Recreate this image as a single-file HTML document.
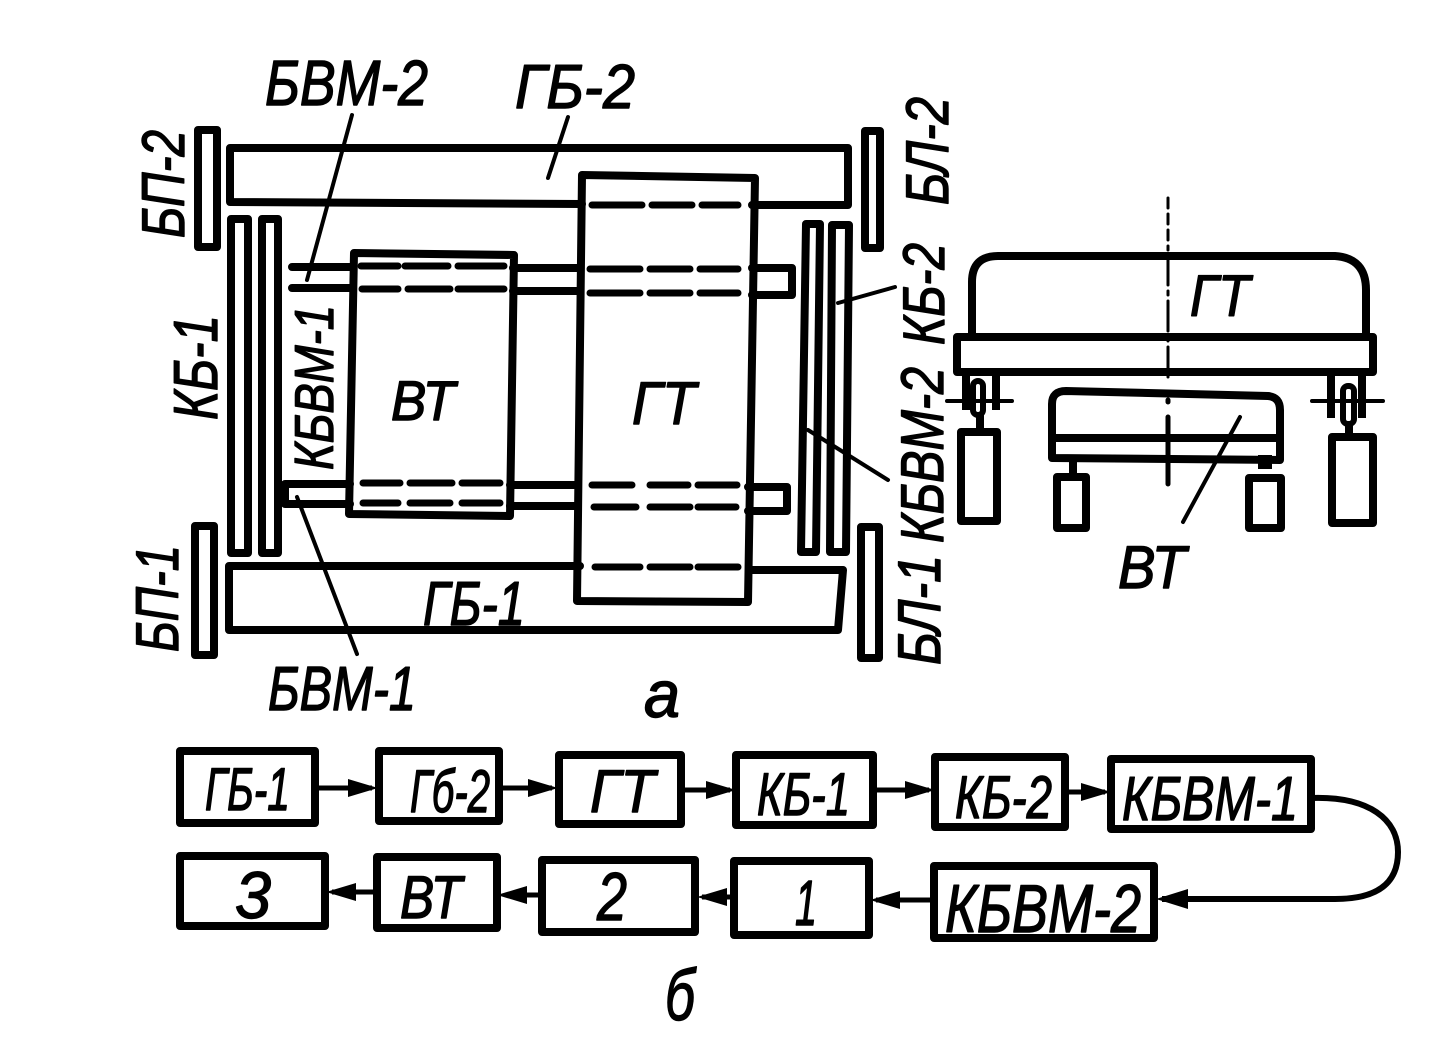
<!DOCTYPE html>
<html><head><meta charset="utf-8"><style>
html,body{margin:0;padding:0;background:#fff;width:1440px;height:1049px;overflow:hidden}
svg{display:block}
text{font-family:"Liberation Sans",sans-serif;font-style:italic;font-size:60px;fill:#000;stroke:#000;stroke-width:1.4px;stroke-linejoin:round}
</style></head><body>
<svg width="1440" height="1049" viewBox="0 0 1440 1049" xmlns="http://www.w3.org/2000/svg">
<g fill="none" stroke="#000" stroke-width="8" stroke-linejoin="round" stroke-linecap="round">
<!-- BP/BL bars -->
<rect x="198" y="130" width="19" height="117"/>
<rect x="865" y="131" width="15" height="117"/>
<rect x="195" y="526" width="19" height="129"/>
<rect x="861" y="527" width="18" height="131"/>
<!-- GB -->
<path d="M582 204L230 202V148H848V205H752"/>
<path d="M580 566H229V630H838L843 570H750"/>
<!-- KB left -->
<rect x="231" y="219" width="17" height="334"/>
<rect x="262" y="219" width="16" height="334"/>
<!-- KB right -->
<path d="M806 224H820L816 552H801Z"/>
<path d="M832 225H849L846 552H830Z"/>
<!-- Shafts -->
<path d="M292 267H352M292 288H352M513 268H580M513 291H580M752 268H792V295H752"/>
<path d="M350 484H285V504H350M510 485H578M510 506H578M748 487H787V511H748"/>
<!-- VT GT -->
<path d="M354 253L514 255L510 516L349 514Z"/>
<path d="M582 175L755 178L748 602L577 601Z"/>
</g>
<g fill="none" stroke="#000" stroke-width="7" stroke-linecap="round">
<path d="M592 205H642M652 205H692M702 205H738"/>
<path d="M595 567H640M650 567H690M698 567H738"/>
<path d="M361 266H398M405 266H448M458 266H504M362 289H398M408 289H450M458 289H504"/>
<path d="M590 269H640M650 269H690M700 269H738M590 293H640M650 293H690M700 293H738"/>
<path d="M363 483H400M410 483H452M462 483H500M363 503H398M410 503H450M462 503H500"/>
<path d="M592 485H632M650 485H688M698 485H737M594 507H636M650 507H690M698 507H736"/>
</g>
<!-- leaders -->
<g fill="none" stroke="#000" stroke-width="4" stroke-linecap="round">
<path d="M352 115L307 280M568 117L548 178M895 287L838 303M888 480L808 430M297 497L357 654"/>
</g>
<!-- Side view -->
<g fill="none" stroke="#000" stroke-width="8" stroke-linejoin="round">
<path d="M972 336V282Q972 256 998 256H1335Q1366 258 1366 290V336"/>
<rect x="957" y="337" width="416" height="35"/>
<path d="M1052 458V404Q1052 391 1066 391L1268 396Q1280 397 1280 410V460Z"/>
<path d="M1052 438H1280"/>
<rect x="961" y="432" width="36" height="89"/>
<rect x="1332" y="437" width="41" height="86"/>
<rect x="1057" y="477" width="29" height="51"/>
<rect x="1249" y="478" width="32" height="50"/>
<path d="M966 373V410M996 373V410M1331 373V418M1362 373V418M1073 462V477"/>
<path d="M980 415V430M1349 425V437"/>
<path d="M1258 462H1272" stroke-width="14"/>
<rect x="973" y="381" width="10" height="34" rx="5" stroke-width="6"/>
<rect x="1343" y="386" width="11" height="38" rx="5" stroke-width="6"/>
</g>
<g fill="none" stroke="#000" stroke-width="4" stroke-linecap="round">
<path d="M947 401H1012M1312 401H1383"/>
<path d="M1168 198V250" stroke-width="3" stroke-dasharray="10 6"/>
<path d="M1168 255V380" stroke-width="3" stroke-dasharray="30 6 4 6"/>
<path d="M1168 400V402M1168 417V484" stroke-width="5"/>
<path d="M1240 417L1183 522"/>
</g>
<!-- Block diagram -->
<g fill="none" stroke="#000" stroke-width="8" stroke-linejoin="round">
<rect x="180" y="751" width="135" height="72"/>
<rect x="379" y="751" width="120" height="70"/>
<rect x="559" y="755" width="122" height="69"/>
<rect x="736" y="755" width="137" height="70"/>
<rect x="935" y="757" width="130" height="70"/>
<rect x="1111" y="759" width="200" height="70"/>
<rect x="180" y="856" width="145" height="70"/>
<rect x="377" y="857" width="120" height="71"/>
<rect x="542" y="860" width="153" height="72"/>
<rect x="734" y="861" width="135" height="74"/>
<rect x="934" y="866" width="220" height="72"/>
</g>
<g fill="none" stroke="#000" stroke-width="5">
<path d="M315 788H372M499 788H552M681 790H730M873 790H929M1065 792H1105"/>
<path d="M1311 798C1370 796 1398 820 1398 852C1398 885 1375 899 1335 899H1162" stroke-width="6"/>
<path d="M934 900H876M734 897H702M542 895H505M377 892H332"/>
</g>
<g fill="#000">
<path d="M378 788l-30-9v18zM558 788l-30-9v18zM736 790l-30-9v18zM935 790l-30-9v18zM1111 792l-30-9v18z"/>
<path d="M1156 899l32-10v20zM870 900l30-9v18zM697 897l30-9v18zM497 895l30-9v18zM326 892l30-9v18z"/>
</g>
<!-- labels -->
<text x="265" y="105" textLength="163" lengthAdjust="spacingAndGlyphs" style="font-size:64px">БВМ-2</text>
<text x="515" y="108" textLength="120" lengthAdjust="spacingAndGlyphs" style="font-size:62px">ГБ-2</text>
<text x="268" y="710" textLength="148" lengthAdjust="spacingAndGlyphs" style="font-size:62px">БВМ-1</text>
<text x="423" y="625" textLength="102" lengthAdjust="spacingAndGlyphs" style="font-size:62px">ГБ-1</text>
<text x="391" y="420" textLength="64" lengthAdjust="spacingAndGlyphs" style="font-size:56px">ВТ</text>
<text x="632" y="424" textLength="64" lengthAdjust="spacingAndGlyphs" style="font-size:60px">ГТ</text>
<text x="1190" y="316" textLength="60" lengthAdjust="spacingAndGlyphs" style="font-size:58px">ГТ</text>
<text x="1118" y="588" textLength="68" lengthAdjust="spacingAndGlyphs" style="font-size:60px">ВТ</text>
<text x="644" y="717" textLength="36" lengthAdjust="spacingAndGlyphs" style="font-size:66px">а</text>
<text x="665" y="1020" textLength="30" lengthAdjust="spacingAndGlyphs" style="font-size:72px">б</text>
<text transform="translate(184,238) rotate(-90)" textLength="108" lengthAdjust="spacingAndGlyphs" style="font-size:60px">БП-2</text>
<text transform="translate(178,652) rotate(-90)" textLength="107" lengthAdjust="spacingAndGlyphs" style="font-size:60px">БП-1</text>
<text transform="translate(948,205) rotate(-90)" textLength="108" lengthAdjust="spacingAndGlyphs" style="font-size:60px">БЛ-2</text>
<text transform="translate(940,665) rotate(-90)" textLength="110" lengthAdjust="spacingAndGlyphs" style="font-size:60px">БЛ-1</text>
<text transform="translate(217,420) rotate(-90)" textLength="105" lengthAdjust="spacingAndGlyphs" style="font-size:62px">КБ-1</text>
<text transform="translate(333,470) rotate(-90)" textLength="165" lengthAdjust="spacingAndGlyphs" style="font-size:55px">КБВМ-1</text>
<text transform="translate(944,345) rotate(-90)" textLength="102" lengthAdjust="spacingAndGlyphs" style="font-size:58px">КБ-2</text>
<text transform="translate(943,543) rotate(-90)" textLength="176" lengthAdjust="spacingAndGlyphs" style="font-size:60px">КБВМ-2</text>
<text x="205" y="810" textLength="85" lengthAdjust="spacingAndGlyphs">ГБ-1</text>
<text x="410" y="812" textLength="80" lengthAdjust="spacingAndGlyphs">Гб-2</text>
<text x="590" y="812" textLength="65" lengthAdjust="spacingAndGlyphs">ГТ</text>
<text x="757" y="815" textLength="93" lengthAdjust="spacingAndGlyphs">КБ-1</text>
<text x="955" y="818" textLength="97" lengthAdjust="spacingAndGlyphs">КБ-2</text>
<text x="1122" y="820" textLength="176" lengthAdjust="spacingAndGlyphs" style="font-size:62px">КБВМ-1</text>
<text x="235" y="918" textLength="36" lengthAdjust="spacingAndGlyphs" style="font-size:66px">3</text>
<text x="400" y="918" textLength="62" lengthAdjust="spacingAndGlyphs">ВТ</text>
<text x="597" y="920" textLength="30" lengthAdjust="spacingAndGlyphs" style="font-size:68px">2</text>
<text x="795" y="925" textLength="22" lengthAdjust="spacingAndGlyphs" style="font-size:64px">1</text>
<text x="945" y="932" textLength="196" lengthAdjust="spacingAndGlyphs" style="font-size:68px">КБВМ-2</text>
</svg>
</body></html>
